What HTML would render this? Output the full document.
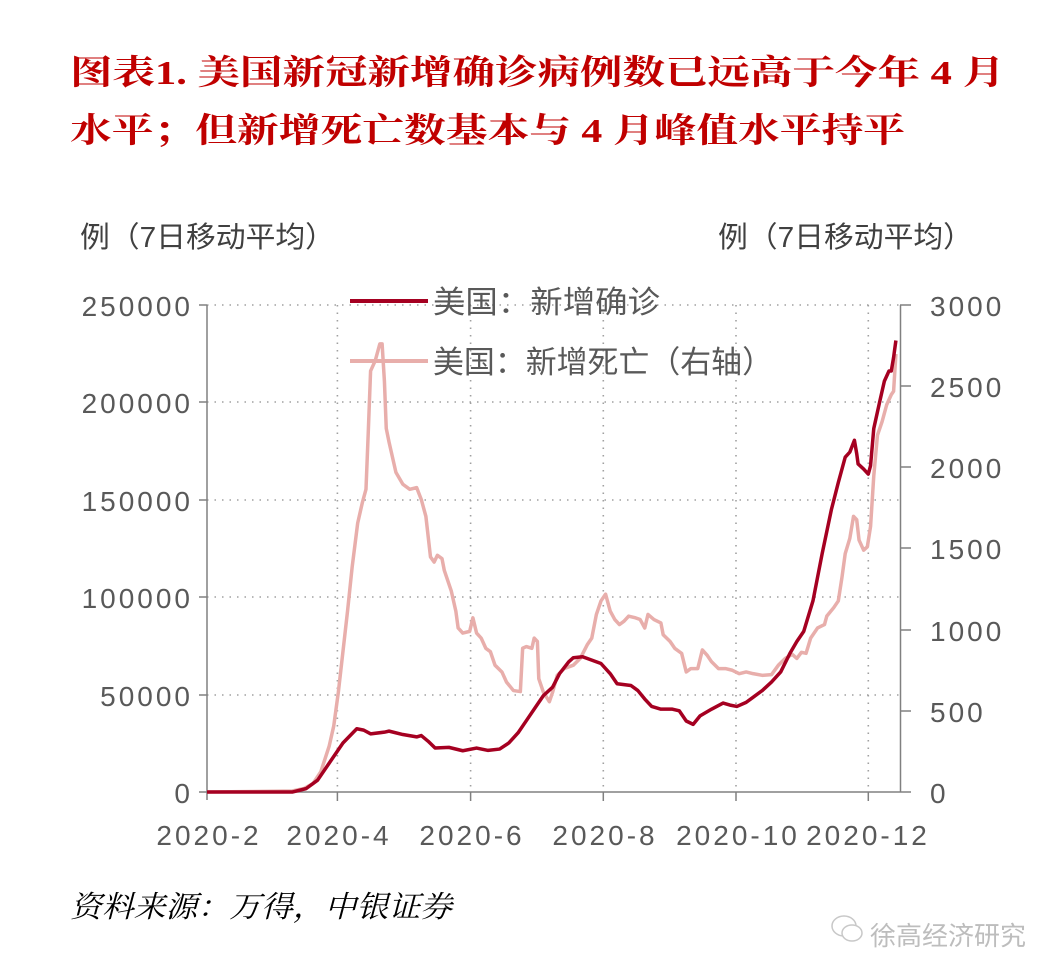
<!DOCTYPE html>
<html><head><meta charset="utf-8"><style>
html,body{margin:0;padding:0;background:#fff;}
svg{display:block;}
</style></head><body>
<svg width="1061" height="980" viewBox="0 0 1061 980" xmlns="http://www.w3.org/2000/svg">
<g font-family="'Liberation Serif','Noto Serif CJK SC',serif" font-weight="bold" fill="#C00000" font-size="34">
<text x="70" y="84" textLength="935" lengthAdjust="spacingAndGlyphs">图表1.  美国新冠新增确诊病例数已远高于今年 4 月</text>
<text x="70" y="142" textLength="835" lengthAdjust="spacingAndGlyphs">水平；但新增死亡数基本与 4 月峰值水平持平</text>
</g>
<g font-family="'Liberation Sans','Noto Sans CJK SC',sans-serif" fill="#404040" font-size="29">
<text x="80" y="247" textLength="255" lengthAdjust="spacingAndGlyphs">例（7日移动平均）</text>
<text x="718" y="247" textLength="255" lengthAdjust="spacingAndGlyphs">例（7日移动平均）</text>
</g>
<!-- grid -->
<g stroke="#a0a0a0" stroke-width="1.6" stroke-dasharray="1.5 6" fill="none">
<line x1="207" y1="305" x2="900" y2="305"/>
<line x1="207" y1="402" x2="900" y2="402"/>
<line x1="207" y1="500" x2="900" y2="500"/>
<line x1="207" y1="597" x2="900" y2="597"/>
<line x1="207" y1="695" x2="900" y2="695"/>
<line x1="337.4" y1="305" x2="337.4" y2="792"/>
<line x1="470.6" y1="305" x2="470.6" y2="792"/>
<line x1="603.3" y1="305" x2="603.3" y2="792"/>
<line x1="736" y1="305" x2="736" y2="792"/>
<line x1="868.3" y1="305" x2="868.3" y2="792"/>
</g>
<!-- axes -->
<g stroke="#808080" stroke-width="1.5" fill="none">
<line x1="207" y1="305" x2="207" y2="800"/>
<line x1="207" y1="792" x2="900" y2="792"/>
<line x1="900.5" y1="305" x2="900.5" y2="792"/>
<line x1="199" y1="305" x2="207" y2="305"/>
<line x1="199" y1="402" x2="207" y2="402"/>
<line x1="199" y1="500" x2="207" y2="500"/>
<line x1="199" y1="597" x2="207" y2="597"/>
<line x1="199" y1="695" x2="207" y2="695"/>
<line x1="199" y1="792" x2="207" y2="792"/>
<line x1="900" y1="305" x2="911" y2="305"/>
<line x1="900" y1="386" x2="911" y2="386"/>
<line x1="900" y1="467" x2="911" y2="467"/>
<line x1="900" y1="548" x2="911" y2="548"/>
<line x1="900" y1="630" x2="911" y2="630"/>
<line x1="900" y1="711" x2="911" y2="711"/>
<line x1="900" y1="792" x2="911" y2="792"/>
<line x1="337.4" y1="792" x2="337.4" y2="801"/>
<line x1="470.6" y1="792" x2="470.6" y2="801"/>
<line x1="603.3" y1="792" x2="603.3" y2="801"/>
<line x1="736" y1="792" x2="736" y2="801"/>
<line x1="868.3" y1="792" x2="868.3" y2="801"/>
</g>
<g font-family="'Liberation Sans',sans-serif" fill="#595959" font-size="28" letter-spacing="3">
<g text-anchor="end">
<text x="193" y="316">250000</text>
<text x="193" y="413">200000</text>
<text x="193" y="511">150000</text>
<text x="193" y="608">100000</text>
<text x="193" y="706">50000</text>
<text x="193" y="803">0</text>
</g>
<text x="930" y="316">3000</text>
<text x="930" y="397">2500</text>
<text x="930" y="478">2000</text>
<text x="930" y="559">1500</text>
<text x="930" y="641">1000</text>
<text x="930" y="722">500</text>
<text x="930" y="803">0</text>
<g text-anchor="middle">
<text x="209" y="845">2020-2</text>
<text x="339" y="845">2020-4</text>
<text x="472" y="845">2020-6</text>
<text x="605" y="845">2020-8</text>
<text x="738" y="845">2020-10</text>
<text x="868" y="845">2020-12</text>
</g>
</g>
<!-- series -->
<g transform="translate(200.09,279.64) scale(0.4608,0.3382)" fill="none" stroke-linejoin="round">
<polyline vector-effect="non-scaling-stroke" stroke="#E8AEAB" stroke-width="3.5" points="15,1515 200,1512 225,1505 245,1490 262,1455 280,1380 290,1320 300,1220 310,1100 320,980 330,850 342,720 352,660 360,620 365,450 370,270 380,240 390,190 395,190 400,300 404,440 410,480 415,510 425,570 440,605 455,620 470,615 480,650 490,700 500,820 508,835 515,815 525,825 530,860 545,920 555,980 560,1030 570,1045 585,1040 592,1000 600,1045 610,1060 620,1090 630,1100 640,1140 655,1160 665,1190 680,1215 695,1218 700,1090 708,1085 720,1090 725,1060 732,1070 735,1180 745,1220 758,1248 765,1220 775,1170 790,1150 810,1140 825,1120 840,1080 850,1060 860,990 870,950 880,930 890,980 900,1005 910,1020 920,1010 930,995 945,1000 955,1005 965,1030 972,990 985,1005 1000,1015 1005,1050 1020,1070 1030,1090 1045,1105 1055,1160 1065,1150 1080,1150 1090,1095 1100,1110 1110,1130 1125,1150 1140,1150 1155,1155 1170,1165 1185,1160 1200,1165 1220,1170 1240,1168 1255,1140 1270,1120 1285,1108 1295,1120 1305,1102 1315,1105 1325,1060 1340,1030 1355,1020 1360,995 1375,970 1385,950 1393,880 1400,810 1410,765 1418,700 1425,710 1430,770 1440,800 1448,790 1455,730 1462,580 1470,460 1480,420 1490,370 1500,340 1505,330 1510,220"/>
<polyline vector-effect="non-scaling-stroke" stroke="#A50021" stroke-width="3.5" points="15,1515 200,1515 230,1505 255,1480 280,1430 310,1370 340,1328 355,1332 370,1343 400,1338 410,1335 440,1345 470,1352 480,1348 495,1365 510,1385 540,1383 570,1393 600,1385 625,1392 650,1388 670,1370 690,1340 710,1300 730,1260 745,1230 765,1205 780,1165 800,1130 810,1118 830,1115 850,1125 870,1135 890,1165 905,1195 935,1200 950,1215 965,1240 980,1262 1000,1270 1025,1270 1040,1275 1055,1305 1070,1315 1085,1290 1110,1270 1135,1252 1150,1258 1165,1262 1185,1250 1200,1235 1220,1215 1240,1190 1260,1160 1280,1105 1295,1070 1310,1040 1330,950 1350,810 1370,680 1385,600 1400,525 1410,510 1420,475 1425,515 1428,545 1440,560 1450,575 1455,550 1462,440 1475,360 1485,300 1495,270 1500,270 1505,230 1510,180"/>
</g>
<!-- legend -->
<line x1="350" y1="301" x2="428" y2="301" stroke="#A50021" stroke-width="4"/>
<line x1="350" y1="361" x2="428" y2="361" stroke="#E8AEAB" stroke-width="4"/>
<g font-family="'Liberation Sans','Noto Sans CJK SC',sans-serif" fill="#595959" font-size="31">
<text x="433" y="313" textLength="227" lengthAdjust="spacingAndGlyphs">美国：新增确诊</text>
<text x="433" y="373" textLength="340" lengthAdjust="spacingAndGlyphs">美国：新增死亡（右轴）</text>
</g>
<text x="70" y="917" font-family="'Liberation Serif','Noto Serif CJK SC',serif" font-style="italic" font-size="30" fill="#000" textLength="382" lengthAdjust="spacingAndGlyphs">资料来源：万得，中银证券</text>
<!-- watermark -->
<g fill="none" stroke="#c8c8c8" stroke-width="1.5">
<ellipse cx="844" cy="926" rx="12" ry="10"/>
<ellipse cx="852" cy="933" rx="10" ry="8" fill="#fff"/>
</g>
<text x="870" y="945" font-family="'Liberation Sans','Noto Sans CJK SC',sans-serif" font-size="26" fill="#bdbdbd">徐高经济研究</text>
</svg>
</body></html>
